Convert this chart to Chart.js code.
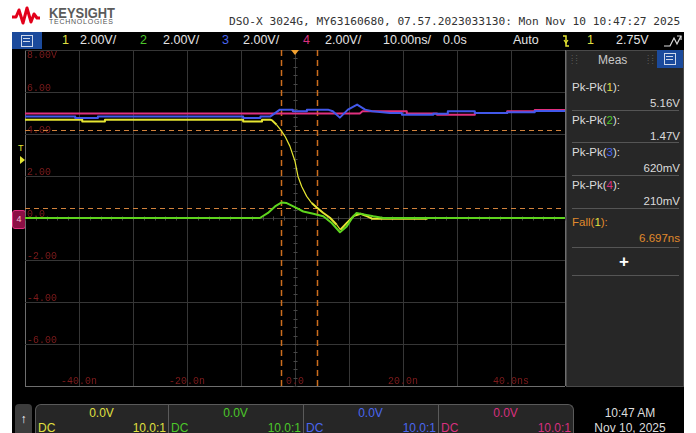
<!DOCTYPE html>
<html>
<head>
<meta charset="utf-8">
<script src="https://cdn.jsdelivr.net/npm/chart.js@4.4.1/dist/chart.umd.min.js"></script>
<style>
    body { margin: 0; width: 696px; height: 433px; background: #fff; position: relative; overflow: hidden; font-family: "Liberation Sans", Arial, sans-serif; }
    .abs { position: absolute; white-space: nowrap; }
    #screen { left: 12px; top: 32px; width: 672px; height: 401px; background: #000; }
    #scope { position: absolute; left: 25px; top: 50px; }
    .tb { top: 32px; line-height: 17px; font-size: 12.5px; color: #e4e4e4; }
    .meas { left: 566px; top: 50px; width: 116px; height: 335px; background: #272727; border: 1px solid #4a4a4a; }
    .ml { left: 572px; font-size: 11.5px; color: #dcdcdc; line-height: 14px; }
    .mv { right: 16px; font-size: 11.5px; color: #dcdcdc; line-height: 14px; text-align: right; }
    .sep { left: 572px; width: 107px; height: 1px; background: #555; }
    .box { top: 404px; height: 29px; background: #262626; border: 1px solid #5a5a5a; border-bottom: none; box-sizing: border-box; }
    .bt { font-size: 12px; line-height: 14px; }
</style>
</head>
<body>

<!-- cabecalho -->
<svg class="abs" style="left:11px;top:6px" width="30" height="20" viewBox="0 0 30 20">
    <polyline points="1,11 5,11 8,4 12,17 16,2 20,16 23,8 26,12 29,12" fill="none" stroke="#e2001a" stroke-width="3" stroke-linejoin="round"/>
</svg>
<div class="abs" style="left:49px;top:4px;font-size:15px;font-weight:bold;color:#5b5b5b;transform:scaleX(0.86);transform-origin:left">KEYSIGHT</div>
<div class="abs" style="left:49px;top:18px;font-size:7px;color:#555;letter-spacing:0.75px">TECHNOLOGIES</div>
<div class="abs" id="titulo" style="left:229px;top:16px;font:11.2px 'DejaVu Sans Mono';line-height:12px;color:#333"></div>

<div class="abs" id="screen"></div>

<!-- barra superior -->
<div class="abs" style="left:12px;top:32px;width:30px;height:17px;background:#1b4a9c"></div>
<div class="abs" style="left:21px;top:35px;width:10px;height:10px;border:1px solid #cfd8ea"></div>
<div class="abs" style="left:23px;top:38px;width:7px;height:1px;background:#cfd8ea"></div>
<div class="abs" style="left:23px;top:41px;width:7px;height:1px;background:#cfd8ea"></div>
<div id="toolbar"></div>
<svg class="abs" style="left:561px;top:34px" width="10" height="14"><polyline points="2,2 5,2 5,12 8,12" fill="none" stroke="#e6e632" stroke-width="1.5"/><polyline points="3,6 5,9 7,6" fill="none" stroke="#e6e632" stroke-width="1.2"/></svg>
<svg class="abs" style="left:663px;top:34px" width="20" height="14"><polyline points="1,12 7,12 11,4 14,10 18,2" fill="none" stroke="#ddd" stroke-width="1.2"/><polyline points="14,2 18,2 18,6" fill="none" stroke="#ddd" stroke-width="1.2"/></svg>

<!-- marcadores da esquerda -->
<div class="abs" style="left:18px;top:143px;font-size:9px;color:#e6e632">T</div>
<svg class="abs" style="left:19px;top:155px" width="7" height="10"><polygon points="1,1 6,5 1,9" fill="#e6e632"/></svg>
<div class="abs" style="left:12px;top:210px;width:12px;height:17px;background:#8c0f45;border:1px solid #e0307f;border-radius:3px;color:#f4c0d8;font-size:9px;line-height:17px;text-align:center">4</div>

<canvas id="scope" width="541" height="337"></canvas>

<!-- painel Meas -->
<div class="abs meas"></div>
<div class="abs" style="left:571px;top:54px;font-size:8px;color:#777;line-height:5px">: :<br>: :</div>
<div class="abs" style="left:647px;top:54px;font-size:8px;color:#777;line-height:5px">: :<br>: :</div>
<div class="abs" style="left:598px;top:53px;font-size:12px;color:#c8c8c8">Meas</div>
<div class="abs" style="left:657px;top:50px;width:26px;height:18px;background:#1b4a9c"></div>
<div class="abs" style="left:664px;top:53px;width:10px;height:10px;border:1px solid #cfd8ea"></div>
<div class="abs" style="left:666px;top:56px;width:7px;height:1px;background:#cfd8ea"></div>
<div class="abs" style="left:666px;top:59px;width:7px;height:1px;background:#cfd8ea"></div>
<div id="measList"></div>
<div class="abs" style="left:619px;top:252px;font-size:17px;font-weight:bold;color:#fff">+</div>
<div class="abs sep" style="top:275px"></div>

<!-- barra inferior -->
<div class="abs" style="left:15px;top:404px;width:17px;height:29px;background:#3c3c3c;border-radius:4px 4px 0 0;color:#fff;font-size:12px;font-weight:bold;text-align:center;line-height:30px">&#8593;</div>
<div id="canais"></div>
<div class="abs bt" style="left:580px;top:406px;width:100px;text-align:center;color:#ddd">10:47 AM</div>
<div class="abs bt" style="left:580px;top:421px;width:100px;text-align:center;color:#ddd">Nov 10, 2025</div>

<script>

/// DADOS

const titulo = 'DSO-X 3024G, MY63160680, 07.57.2023033130: Mon Nov 10 10:47:27 2025';

const ch1Time = [-50, -39.4, -39.4, -35.2, -35.2, -9.6, -9.6, -6.1, -6.1, -4.6, -4.3, -3.4, -2.65, -1.85, -0.93, 0, 0.56, 1.24, 2.17, 3.09, 4.13, 5.19, 6.48, 7.72, 8.4, 9.63, 10.93, 12.17, 13.1, 14.26, 24.4, 24.4, 50];
const ch1Volts = [4.68, 4.68, 4.6, 4.6, 4.68, 4.68, 4.6, 4.6, 4.68, 4.68, 4.66, 4.44, 4.2, 3.89, 3.41, 2.7, 1.98, 1.5, 1.03, 0.71, 0.48, 0.25, 0.01, -0.32, -0.56, -0.22, 0.11, 0.2, 0.11, -0.03, -0.03, 0, 0];

const ch2Time = [-50, -8.3, -6.5, -5.0, -3.7, -2.46, -1.54, -0.31, 1.54, 3.39, 5.24, 6.8, 8.33, 9.57, 10.8, 11.4, 12.96, 14.5, 16.35, 50];
const ch2Volts = [0, 0, 0, 0.24, 0.55, 0.74, 0.71, 0.55, 0.31, 0.2, 0.08, -0.24, -0.68, -0.4, 0.08, 0.24, 0.16, 0.08, 0, 0];

const ch3Time = [-50, -40.7, -40.7, -36.5, -36.5, -9.6, -9.6, -6.4, -6.4, -4.6, -2.8, -0.4, -0.4, 2.2, 2.2, 6.1, 7.0, 8.3, 9.8, 11.5, 13.0, 14.3, 17.6, 19.8, 19.8, 25.6, 25.6, 28.3, 28.3, 33.3, 33.3, 39.3, 39.3, 44.4, 44.4, 50];
const ch3Volts = [4.83, 4.83, 4.76, 4.76, 4.83, 4.83, 4.76, 4.76, 4.83, 4.83, 5.16, 5.16, 5.08, 5.08, 5.16, 5.16, 5.08, 4.78, 5.16, 5.4, 5.16, 5.08, 5.0, 5.0, 4.92, 4.92, 4.97, 4.97, 5.08, 5.08, 5.0, 5.0, 5.03, 5.03, 5.1, 5.1];

const ch4Time = [-50, 12.0, 12.5, 20.7, 20.7, 26.3, 26.3, 33.3, 33.3, 39.3, 39.3, 44.4, 44.4, 50];
const ch4Volts = [4.98, 4.98, 5.08, 5.08, 4.98, 4.98, 4.92, 4.92, 5.0, 5.0, 5.08, 5.08, 5.14, 5.14];

const yTickValues = [8, 6, 4, 2, 0, -2, -4, -6];
const yTickLabels = ['8.00V', '6.00', '4.00', '2.00', '0.0', '-2.00', '-4.00', '-6.00'];
const xTickValues = [-40, -20, 0, 20, 40];
const xTickLabels = ['-40.0n', '-20.0n', '0.0', '20.0n', '40.0ns'];

// cursores da medida de Fall(1)
const cursorTimes = [-2.6, 4.1];
const cursorLevels = [4.2, 0.48];

const measNames = ['Pk-Pk(1):', 'Pk-Pk(2):', 'Pk-Pk(3):', 'Pk-Pk(4):', 'Fall(1):'];
const measValues = ['5.16V', '1.47V', '620mV', '210mV', '6.697ns'];

const canalOffset = ['0.0V', '0.0V', '0.0V', '0.0V'];
const canalProbe = ['10.0:1', '10.0:1', '10.0:1', '10.0:1'];

const cores = ['#e6e632', '#5ed41e', '#4258ea', '#e0307f'];
const coresTexto = ['#e0e040', '#4cc82a', '#4a66f0', '#d8307f'];


/// TEXTOS

document.getElementById('titulo').textContent = titulo;

// barra superior: [texto, x, cor]
var itensBarra = [
    ['1', 62, coresTexto[0]], ['2.00V/', 80], ['2', 140, coresTexto[1]], ['2.00V/', 163],
    ['3', 222, coresTexto[2]], ['2.00V/', 243], ['4', 303, coresTexto[3]], ['2.00V/', 325],
    ['10.00ns/', 383], ['0.0s', 443], ['Auto', 513], ['1', 587, coresTexto[0]], ['2.75V', 616]
];
var htmlBarra = '';
itensBarra.forEach(function (it) {
    htmlBarra += '<div class="abs tb" style="left:' + it[1] + 'px;' + (it[2] ? 'color:' + it[2] : '') + '">' + it[0] + '</div>';
});
document.getElementById('toolbar').innerHTML = htmlBarra;

var measTopo = [80, 113, 145, 178, 215];
var measSep = [110, 142, 175, 208, 247];
var htmlMeas = '';
measNames.forEach(function (nome, i) {
    var n = nome.match(/\((\d)\)/)[1];
    var rotulo = nome.replace('(' + n + ')', '(<span style="color:' + coresTexto[n - 1] + '">' + n + '</span>)');
    var cor = i === 4 ? 'color:#e08a2c;' : '';
    htmlMeas += '<div class="abs ml" style="top:' + measTopo[i] + 'px;' + cor + '">' + rotulo + '</div>';
    htmlMeas += '<div class="abs mv" style="top:' + (measTopo[i] + 16) + 'px;' + cor + '">' + measValues[i] + '</div>';
    htmlMeas += '<div class="abs sep" style="top:' + measSep[i] + 'px"></div>';
});
document.getElementById('measList').innerHTML = htmlMeas;

var boxX = [35, 168, 303, 438, 573];
var htmlCanais = '';
for (var i = 0; i < 4; i++) {
    var w = boxX[i + 1] - boxX[i];
    var raio = i === 0 ? 'border-radius:6px 0 0 0;' : (i === 3 ? 'border-radius:0 6px 0 0;' : '');
    htmlCanais += '<div class="abs box" style="left:' + boxX[i] + 'px;width:' + (w + 1) + 'px;' + raio + '"></div>';
    htmlCanais += '<div class="abs bt" style="left:' + boxX[i] + 'px;width:' + w + 'px;top:406px;text-align:center;color:' + coresTexto[i] + '">' + canalOffset[i] + '</div>';
    htmlCanais += '<div class="abs bt" style="left:' + (boxX[i] + 3) + 'px;top:421px;color:' + coresTexto[i] + '">DC</div>';
    htmlCanais += '<div class="abs bt" style="left:' + boxX[i] + 'px;width:' + (w - 2) + 'px;top:421px;text-align:right;color:' + coresTexto[i] + '">' + canalProbe[i] + '</div>';
}
document.getElementById('canais').innerHTML = htmlCanais;


/// GRAFICO DO OSCILOSCOPIO

function pontos(tempo, volts) {
    return tempo.map(function (t, i) { return { x: t, y: volts[i] }; });
}

const decoracao = {
    id: 'decoracao',
    beforeDatasetsDraw(chart) {
        const ctx = chart.ctx;
        const a = chart.chartArea;
        const x = chart.scales.x;
        const y = chart.scales.y;
        ctx.save();

        // marquinhas nos eixos centrais
        ctx.strokeStyle = '#484848';
        ctx.lineWidth = 1;
        const cx = Math.round(x.getPixelForValue(0)) + 0.5;
        const cy = Math.round(y.getPixelForValue(0)) + 0.5;
        ctx.beginPath();
        for (let k = -20; k <= 20; k++) {
            const py = Math.round(y.getPixelForValue(k * 0.4)) + 0.5;
            ctx.moveTo(cx - 2, py); ctx.lineTo(cx + 2, py);
        }
        for (let k = -25; k <= 25; k++) {
            const px = Math.round(x.getPixelForValue(k * 2)) + 0.5;
            ctx.moveTo(px, cy - 2); ctx.lineTo(px, cy + 2);
        }
        ctx.stroke();

        // rotulos dos eixos
        ctx.font = '10px "Liberation Mono"';
        ctx.fillStyle = '#7e1a1a';
        ctx.textBaseline = 'alphabetic';
        ctx.textAlign = 'left';
        yTickValues.forEach(function (v, i) {
            const py = v === y.max ? a.top + 8 : y.getPixelForValue(v) - 1.5;
            ctx.fillText(yTickLabels[i], a.left + 2, py);
        });
        ctx.textAlign = 'center';
        xTickValues.forEach(function (t, i) {
            ctx.fillText(xTickLabels[i], x.getPixelForValue(t), a.bottom - 2);
        });

        // cursores
        ctx.strokeStyle = '#d2823c';
        ctx.setLineDash([5, 4]);
        cursorLevels.forEach(function (v) {
            const py = Math.round(y.getPixelForValue(v)) + 0.5;
            ctx.beginPath(); ctx.moveTo(a.left, py); ctx.lineTo(a.right, py); ctx.stroke();
        });
        ctx.strokeStyle = '#cc6e1e';
        ctx.lineWidth = 1.5;
        ctx.setLineDash([6, 4]);
        cursorTimes.forEach(function (t) {
            const px = Math.round(x.getPixelForValue(t)) + 0.5;
            ctx.beginPath(); ctx.moveTo(px, a.top); ctx.lineTo(px, a.bottom); ctx.stroke();
        });
        ctx.restore();
    },
    afterDraw(chart) {
        // marcador da posicao do trigger
        const ctx = chart.ctx;
        const px = chart.scales.x.getPixelForValue(0);
        const top = chart.chartArea.top;
        ctx.save();
        ctx.fillStyle = '#f0a030';
        ctx.beginPath();
        ctx.moveTo(px - 4, top); ctx.lineTo(px + 4, top); ctx.lineTo(px, top + 5);
        ctx.closePath(); ctx.fill();
        ctx.restore();
    }
};

function corGrade(ctx, bordas) {
    return bordas.indexOf(ctx.tick.value) >= 0 ? '#6e6e6e' : '#363636';
}

const scope = document.getElementById('scope');

new Chart(scope, {
    type: 'line',
    data: {
        datasets: [
            {
                label: '2',
                data: pontos(ch2Time, ch2Volts),
                borderColor: cores[1],
                borderWidth: 2,
                order: 0
            },
            {
                label: '3',
                data: pontos(ch3Time, ch3Volts),
                borderColor: cores[2],
                borderWidth: 2,
                order: 1
            },
            {
                label: '4',
                data: pontos(ch4Time, ch4Volts),
                borderColor: cores[3],
                borderWidth: 2,
                order: 2
            },
            {
                label: '1',
                data: pontos(ch1Time, ch1Volts),
                borderColor: cores[0],
                borderWidth: 2,
                order: 3,
                segment: {
                    // borda rapida fica fina, como no osciloscopio
                    borderWidth: function (ctx) {
                        const dt = ctx.p1.parsed.x - ctx.p0.parsed.x;
                        const dv = ctx.p1.parsed.y - ctx.p0.parsed.y;
                        return dt > 0 && Math.abs(dv / dt) > 0.3 ? 1.2 : 2;
                    }
                }
            }
        ]
    },
    options: {
        responsive: false,
        animation: false,
        devicePixelRatio: 1,
        layout: { padding: { left: 0, top: 0, right: 1, bottom: 1 } },
        elements: {
            point: { radius: 0 },
            line: { tension: 0, borderJoinStyle: 'round' }
        },
        scales: {
            x: {
                type: 'linear',
                min: -50,
                max: 50,
                ticks: { display: false, stepSize: 10 },
                grid: { drawTicks: false, color: function (ctx) { return corGrade(ctx, [-50, 50]); } },
                border: { display: false }
            },
            y: {
                type: 'linear',
                min: -8,
                max: 8,
                ticks: { display: false, stepSize: 2 },
                grid: { drawTicks: false, color: function (ctx) { return corGrade(ctx, [-8]); } },
                border: { display: false }
            }
        },
        plugins: {
            legend: { display: false },
            tooltip: { enabled: false }
        }
    },
    plugins: [decoracao]
});

</script>
</body>
</html>
